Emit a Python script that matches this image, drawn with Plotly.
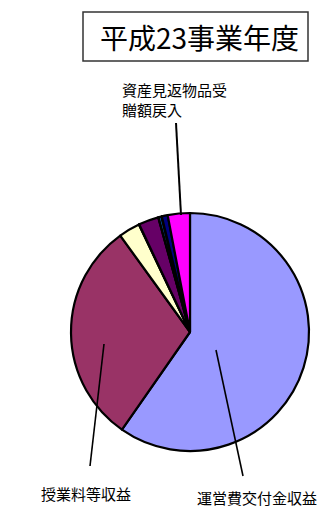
import plotly.graph_objects as go

W, H = 325, 508

# Data (percent shares, clockwise from 12 o'clock)
categories = ["運営費交付金収益", "授業料等収益", "区分3", "区分4", "区分5", "区分6", "区分7", "区分8", "区分9", "資産見返物品受贈額戻入"]
values = [59.6, 30.3, 2.9, 0.05, 2.7, 0.05, 0.4, 0.05, 0.8, 3.0]
colors = ["#9999FF", "#993366", "#FFFFCC", "#CCFFFF", "#660066", "#FF8080", "#0066CC", "#CCCCFF", "#000080", "#FF00FF"]
title_text = "平成23事業年度"

FONT = "Noto Sans CJK JP"

def px(x):
    return x / W

def py(y):
    return 1 - y / H

cx, cy, r = 190, 332, 119

fig = go.Figure(go.Pie(
    labels=categories,
    values=values,
    sort=False,
    direction="clockwise",
    rotation=0,
    marker=dict(colors=colors, line=dict(color="#000000", width=2.2)),
    textinfo="none",
    hoverinfo="label+percent",
    showlegend=False,
    domain=dict(x=[px(cx - r), px(cx + r)], y=[py(cy + r), py(cy - r)]),
))

shapes = [
    # title box
    dict(type="rect", xref="paper", yref="paper", x0=px(83), x1=px(308), y0=py(12), y1=py(61),
         line=dict(color="#333333", width=1.5), fillcolor="rgba(0,0,0,0)"),
    # leader lines
    dict(type="line", xref="paper", yref="paper", x0=px(176), y0=py(123), x1=px(181), y1=py(215),
         line=dict(color="#000000", width=2)),
    dict(type="line", xref="paper", yref="paper", x0=px(216), y0=py(350), x1=px(243), y1=py(476),
         line=dict(color="#000000", width=1.6)),
    dict(type="line", xref="paper", yref="paper", x0=px(104), y0=py(344), x1=px(90), y1=py(466),
         line=dict(color="#000000", width=1.6)),
]

annotations = [
    dict(text=title_text, x=px(199), y=py(37), xref="paper", yref="paper", showarrow=False,
         font=dict(family=FONT, size=28, color="#000000"), xanchor="center", yanchor="middle"),
    dict(text="資産見返物品受<br>贈額戻入", x=px(120), y=py(99), xref="paper", yref="paper", showarrow=False,
         font=dict(family=FONT, size=15, color="#000000"), xanchor="left", yanchor="middle", align="left"),
    dict(text="授業料等収益", x=px(86), y=py(493), xref="paper", yref="paper", showarrow=False,
         font=dict(family=FONT, size=15, color="#000000"), xanchor="center", yanchor="middle"),
    dict(text="運営費交付金収益", x=px(257), y=py(497), xref="paper", yref="paper", showarrow=False,
         font=dict(family=FONT, size=15, color="#000000"), xanchor="center", yanchor="middle",
         borderpad=0),
]

fig.update_layout(
    width=W, height=H,
    margin=dict(l=0, r=0, t=0, b=0),
    paper_bgcolor="#FFFFFF",
    plot_bgcolor="#FFFFFF",
    shapes=shapes,
    annotations=annotations,
    font=dict(family=FONT),
)

fig.write_html("out.html")
